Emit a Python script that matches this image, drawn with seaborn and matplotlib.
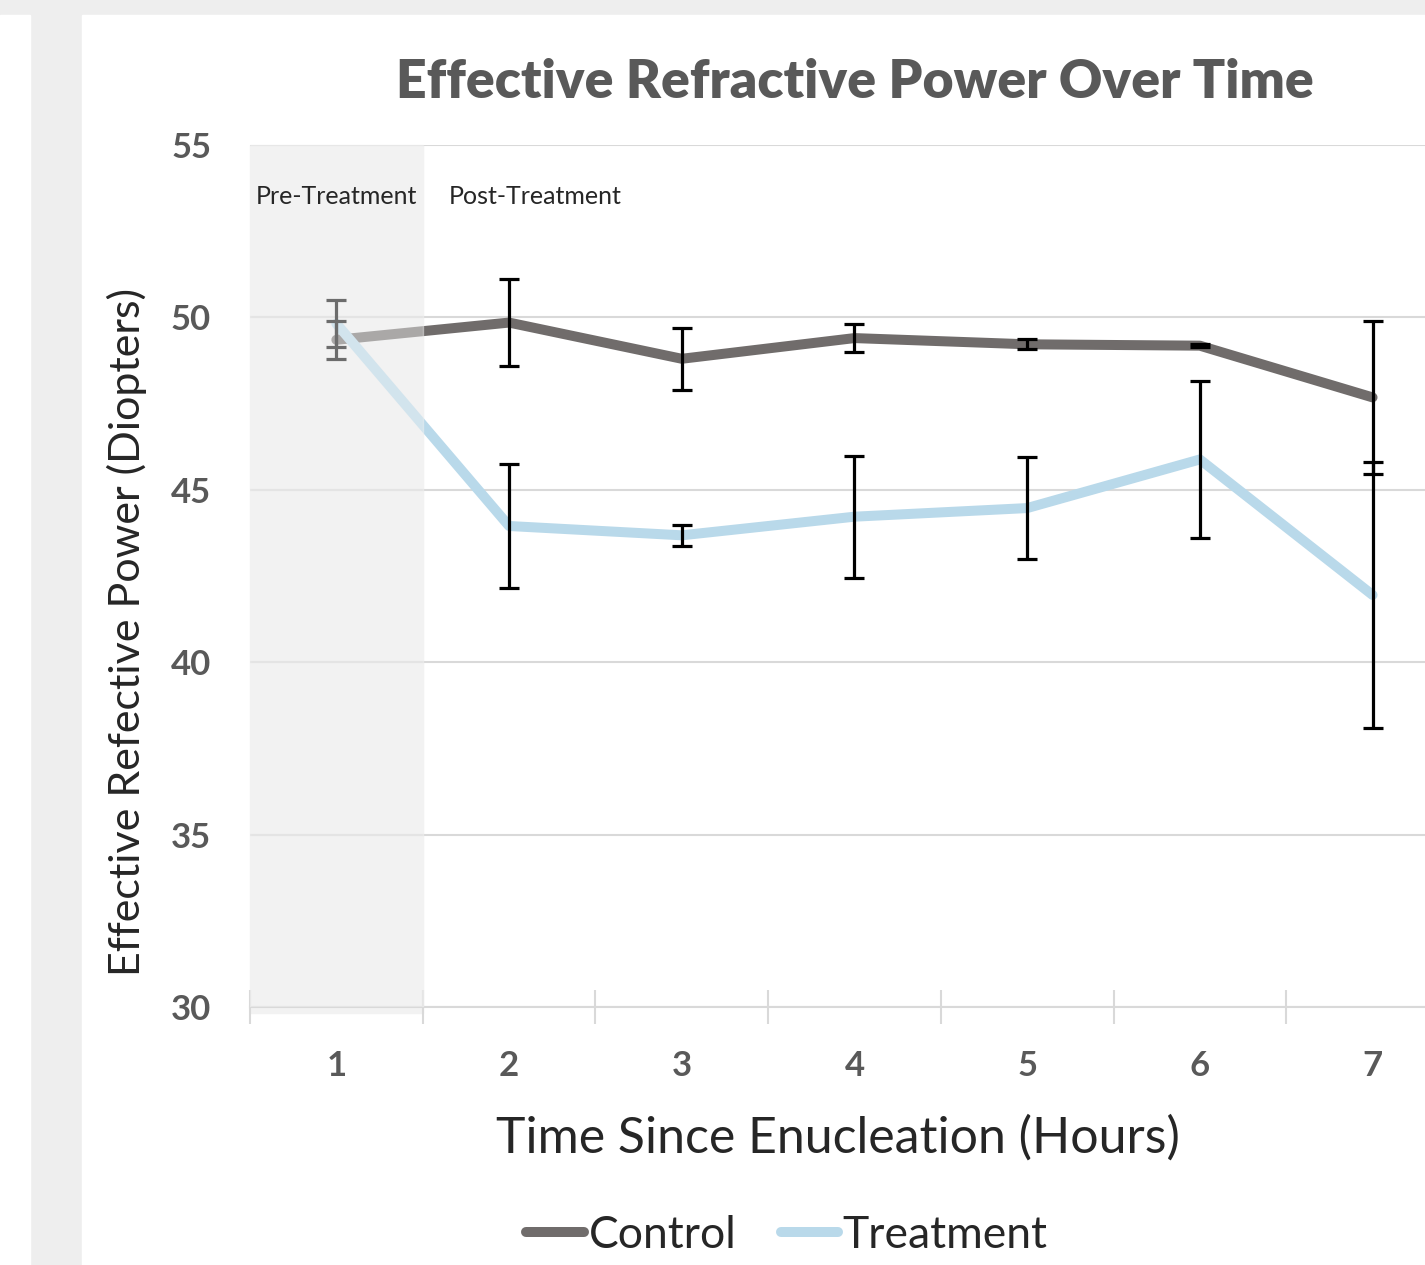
import matplotlib
matplotlib.use("Agg")
import matplotlib.pyplot as plt
import matplotlib.patches as mpatches
import pandas as pd
import numpy as np
import seaborn as sns

# data
hours = [1, 2, 3, 4, 5, 6, 7]
control = [49.35, 49.85, 48.8, 49.4, 49.22, 49.18, 47.68]
control_err = [0.55, 1.25, 0.9, 0.4, 0.15, 0.05, 2.23]
treatment = [49.82, 43.95, 43.68, 44.22, 44.47, 45.88, 41.95]
treatment_err = [0.68, 1.8, 0.3, 1.77, 1.47, 2.28, 3.87]

df = pd.DataFrame({
    "Hours": hours * 2,
    "Power": control + treatment,
    "Group": ["Control"] * 7 + ["Treatment"] * 7,
})

sns.set_style("white")
plt.rcParams['font.family'] = ['Lato', 'DejaVu Sans']

colors = {"Control": "#706c6b", "Treatment": "#b9d9ea"}

fig = plt.figure(figsize=(14.25, 12.65), dpi=100)
fig.patch.set_facecolor("#eeeeee")
# white panels of the screenshot
fig.add_artist(mpatches.Rectangle((82 / 1425, 0), 1, 1 - 15 / 1265,
                                  transform=fig.transFigure, color="white", zorder=0))
fig.add_artist(mpatches.Rectangle((0, 0), 30 / 1425, 1 - 15 / 1265,
                                  transform=fig.transFigure, color="white", zorder=0))

ax = fig.add_axes([250 / 1425, 1 - 1007 / 1265, 1 - 250 / 1425, (1007 - 145) / 1265])
ax.set_facecolor("none")

sns.lineplot(data=df, x="Hours", y="Power", hue="Group", palette=colors,
             linewidth=7.2, ax=ax, zorder=3, legend=False,
             solid_capstyle="round")

ax.errorbar(hours, control, yerr=control_err, fmt="none", ecolor="black",
            elinewidth=2.3, capsize=7, capthick=2.3, zorder=4)
ax.errorbar(hours, treatment, yerr=treatment_err, fmt="none", ecolor="black",
            elinewidth=2.3, capsize=7, capthick=2.3, zorder=4)

ax.set_xlim(0.5, 0.5 + 1175 / 172.7)
ax.set_ylim(30, 55)

# pre-treatment shading: base plus a translucent overlay on top of the lines
ax.axvspan(0.5, 1.5, ymin=-0.007, ymax=1, color="#f2f2f2", zorder=0, clip_on=False)
ax.axvspan(0.5, 1.5, ymin=0, ymax=1, color="#f2f2f2", alpha=0.45, zorder=5)

ax.set_yticks([30, 35, 40, 45, 50, 55])
ax.yaxis.grid(True, color="#d9d9d9", linewidth=1.5, zorder=1)
ax.set_axisbelow(True)
ax.set_xticks(hours)
ax.set_xticks(np.arange(0.5, 7.5, 1), minor=True)
ax.tick_params(axis="x", which="major", length=0, pad=31, bottom=True)
ax.tick_params(axis="x", which="minor", length=24, width=1.5, color="#d9d9d9",
               direction="inout", bottom=True)
ax.tick_params(axis="y", length=0, pad=28)
for lab in ax.get_xticklabels() + ax.get_yticklabels():
    lab.set_fontweight("bold")
    lab.set_color("#595959")
    lab.set_fontsize(25)

for s in ["top", "right", "left"]:
    ax.spines[s].set_visible(False)
ax.spines["bottom"].set_color("#d9d9d9")
ax.spines["bottom"].set_linewidth(1.5)

ax.text(1, 53.5, "Pre-Treatment", ha="center", va="center", fontsize=18, zorder=6)
ax.text(2.15, 53.5, "Post-Treatment", ha="center", va="center", fontsize=18, zorder=6)

ax.set_xlabel("Time Since Enucleation (Hours)", fontsize=36, labelpad=24)
ax.set_ylabel("Effective Refective Power (Diopters)", fontsize=31)
ax.yaxis.set_label_coords(-0.088, 0.435)

fig.text(855 / 1425, 1 - 82 / 1265, "Effective Refractive Power Over Time",
         ha="center", va="center", fontsize=38.5, fontweight="heavy", color="#595959")

handles = [plt.Line2D([], [], color=colors[g], linewidth=7.2, solid_capstyle="round")
           for g in ["Control", "Treatment"]]
fig.legend(handles, ["Control", "Treatment"], loc="center",
           bbox_to_anchor=(787 / 1425, 1 - 1235 / 1265), ncol=2, frameon=False,
           fontsize=32, handlelength=1.3, handletextpad=0.1, columnspacing=1.0)

fig.savefig("out.png", dpi=100, facecolor=fig.get_facecolor())
